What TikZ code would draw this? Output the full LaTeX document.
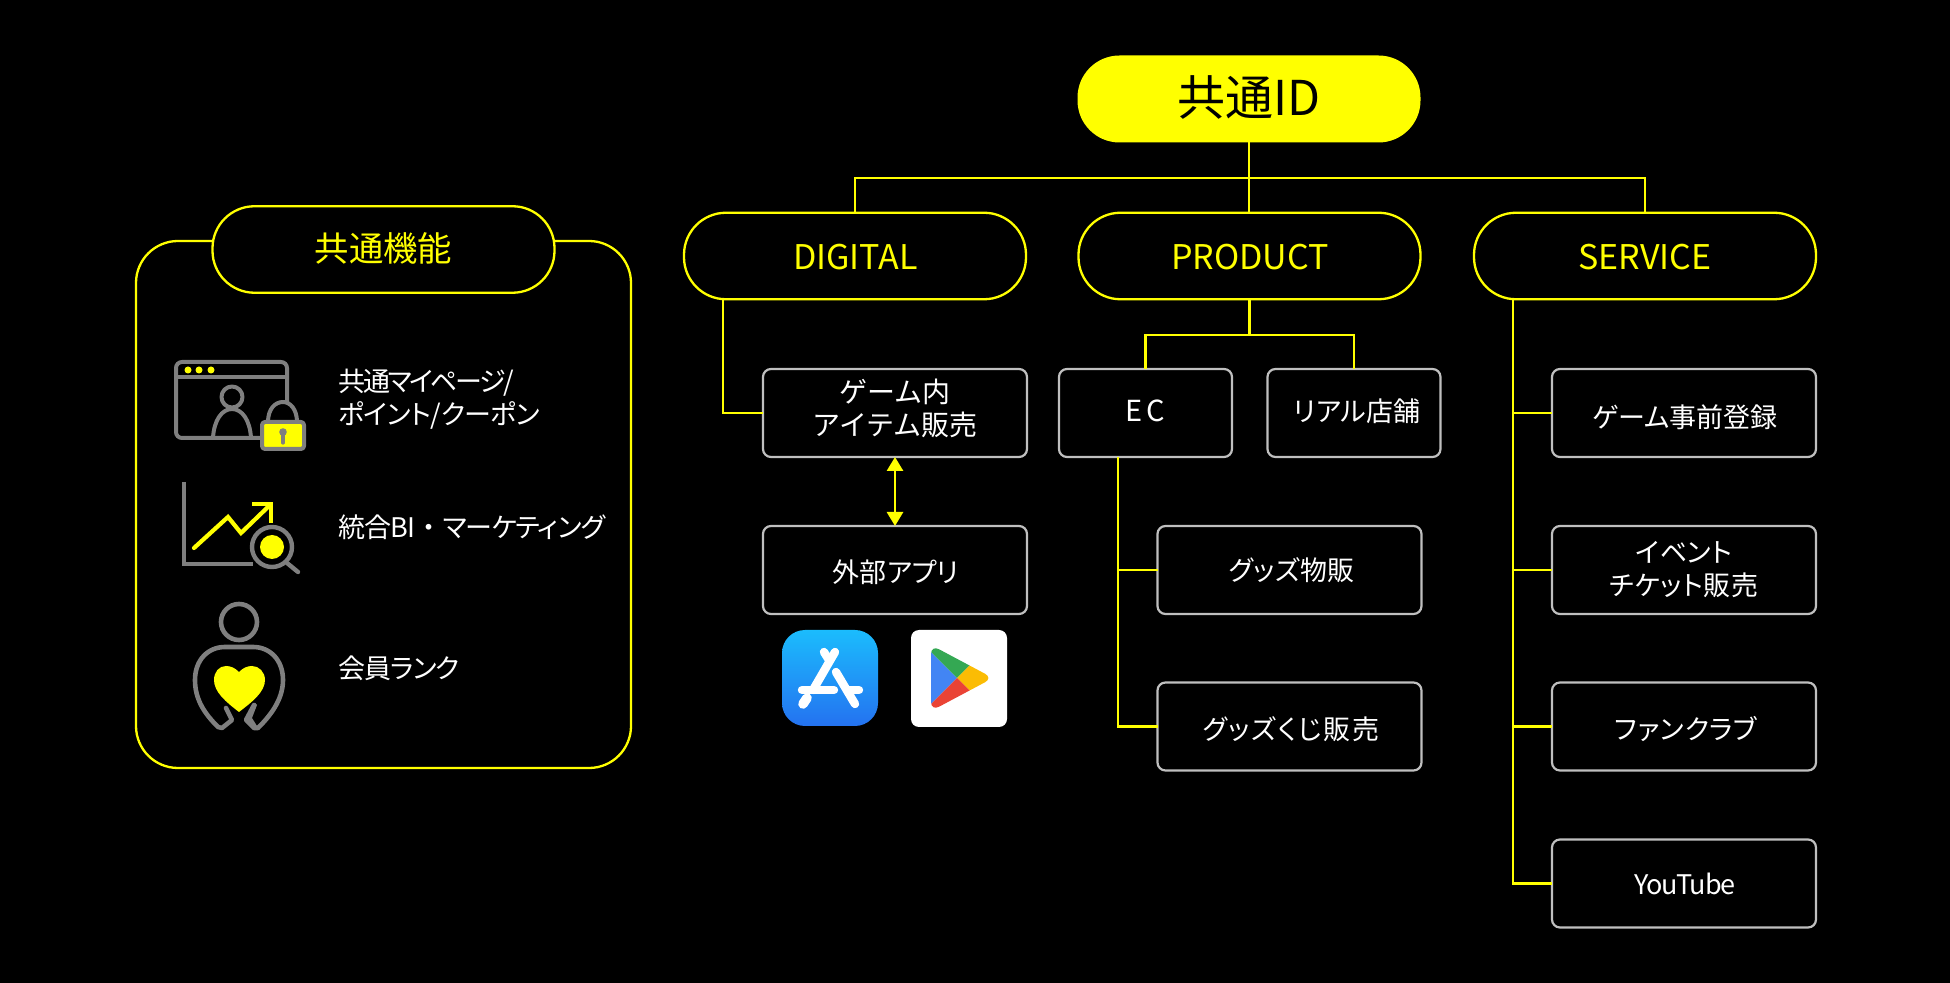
\documentclass[tikz,border=0pt]{standalone}
\usepackage{fontspec}
\setmainfont{Noto Sans CJK JP}
\newfontfamily\palt[RawFeature=+palt]{Noto Sans CJK JP}
\newcommand\tight[2]{{\addfontfeature{LetterSpace=#1}#2}}
\usetikzlibrary{arrows.meta}
\definecolor{ky}{HTML}{FFFF00}
\definecolor{gy}{HTML}{7F7F7F}
\definecolor{bx}{HTML}{BFBFBF}
\definecolor{asT}{HTML}{1BBCFD}
\definecolor{asB}{HTML}{2472F0}
\definecolor{gpb}{HTML}{4285F4}
\definecolor{gpg}{HTML}{34A853}
\definecolor{gpr}{HTML}{EA4335}
\definecolor{gpy}{HTML}{FBBC04}
\tikzset{
  pill/.style={draw=ky,fill=black,line width=1.15pt,rounded corners=21pt,minimum width=171pt,minimum height=43.25pt,inner sep=0pt,outer sep=0pt},
  box/.style={draw=bx,fill=black,line width=1.1pt,rounded corners=4pt,inner sep=0pt,outer sep=0pt,minimum height=44pt},
  bw/.style={box,minimum width=132pt},
  bn/.style={box,minimum width=86.5pt},
  link/.style={draw=ky,line width=1.15pt},
  txt/.style={text=white,font=\palt\fontsize{13.5pt}{16.5pt}\selectfont,align=center,inner sep=0pt},
  ltxt/.style={text=white,font=\palt\fontsize{13.5pt}{16.5pt}\selectfont,align=left,anchor=west,inner sep=0pt},
  ytxt/.style={text=ky,font=\fontsize{17pt}{19pt}\selectfont,inner sep=0pt},
  ico/.style={draw=gy,line width=2pt,line join=round,line cap=round},
  icy/.style={draw=ky,line width=2.1pt,line join=miter,line cap=round},
}
\begin{document}
\begin{tikzpicture}[x=0.5pt,y=-0.5pt]
\useasboundingbox[fill=black] (0,0) rectangle (1950,983);

% common panel
\node[draw=ky,line width=1.15pt,rounded corners=21pt,minimum width=247.5pt,minimum height=263.5pt,inner sep=0pt,outer sep=0pt] (panel) at (383.5,504.5) {};
\node[pill] (common) at (383.5,249.5) {};
\node[ytxt,font=\fontsize{17.2pt}{19pt}\selectfont] (commonT) at (383.5,248) {共通機能};

% top nodes
\node[pill,draw=none,fill=ky,minimum width=171.5pt,minimum height=43.5pt] (id) at (1249,99) {};
\node[text=black,font=\fontsize{24pt}{28pt}\selectfont,inner sep=0pt] (idT) at (1249,98) {共通ID};
\node[pill] (digital) at (855,256) {};
\node[ytxt] (digitalT) at (855.5,257) {DIGITAL};
\node[pill] (product) at (1249.5,256) {};
\node[ytxt] (productT) at (1250,257) {PRODUCT};
\node[pill] (service) at (1645,256) {};
\node[ytxt] (serviceT) at (1645,257) {SERVICE};

% boxes
\node[bw] (game) at (895,413) {};
\node[txt,font=\fontsize{14pt}{16.5pt}\selectfont] (gameT) at (895,408) {ゲーム内\\アイテム販売};
\node[bw] (ext) at (895,570) {};
\node[txt] (extT) at (896,572) {外部アプリ};
\node[bn] (ec) at (1145.5,413) {};
\node[txt,font=\fontsize{14.5pt}{16.5pt}\selectfont] (ecT) at (1145,411) {E\kern2pt C};
\node[bn] (real) at (1354,413) {};
\node[txt] (realT) at (1357,411) {リアル店舗};
\node[bw] (goods) at (1289.5,570) {};
\node[txt] (goodsT) at (1292,570) {\tight{1}{グッズ物販}};
\node[bw] (kuji) at (1289.5,726.5) {};
\node[txt] (kujiT) at (1291,729) {\tight{6}{グッズくじ販売}};
\node[bw] (pre) at (1684,413) {};
\node[txt] (preT) at (1685,417) {ゲーム事前登録};
\node[bw] (event) at (1684,570) {};
\node[txt] (eventT) at (1684,570) {イベント\\\tight{2}{チケット販売}};
\node[bw] (fan) at (1684,726.5) {};
\node[txt] (fanT) at (1686,729) {\tight{2}{ファンクラブ}};
\node[bw] (yt) at (1684,883.5) {};
\node[txt] (ytT) at (1685,884) {\tight{-4}{YouTube}};

% connectors
\coordinate (bus) at (1249,178);
\draw[link] (id.south) -- (id.south |- product.north);
\draw[link] (digital.north) |- (bus) -| (service.north);
\coordinate (dj) at (723,299);
\draw[link] (dj) |- (game.west);
\coordinate (pbus) at (1249.5,335);
\draw[link] (product.south) -- (pbus);
\draw[link] (ec.north) |- (pbus) -| (real.north);
\coordinate (ej) at (1118,457);
\draw[link] (ej) |- (kuji.west);
\draw[link] (ej |- goods.west) -- (goods.west);
\coordinate (sj) at (1513,299);
\draw[link] (sj) |- (yt.west);
\draw[link] (sj |- pre.west) -- (pre.west);
\draw[link] (sj |- event.west) -- (event.west);
\draw[link] (sj |- fan.west) -- (fan.west);
\draw[draw=ky,line width=1.4pt,{Triangle[width=8pt,length=7pt]}-{Triangle[width=8pt,length=7pt]}] (game.south) -- (ext.north);

% left labels
\node[ltxt] (l1) at (338,399) {\tight{-9}{共通マイページ/}\\\tight{-2}{ポイント/クーポン}};
\node[ltxt] (l2) at (338,527) {\tight{-3}{統合BI{\rmfamily ・}マーケティング}};
\node[ltxt] (l3) at (338,668) {\tight{-4}{会員ランク}};

% icon 1
\draw[ico,rounded corners=3pt] (287,402) -- (287,362) -- (176,362) -- (176,438) -- (262,438);
\draw[ico] (176,377) -- (287,377);
\foreach \x in {188,199,211} \fill[ky] (\x,370) circle (1.75pt);
\draw[ico] (232,397) circle (5.25pt);
\draw[ico] (213,438) .. controls (214,420) and (222,409) .. (232,409) .. controls (242,409) and (250,420) .. (251,438);
\draw[ico] (268,422) .. controls (268,409) and (275,402) .. (283,402) .. controls (290,402) and (297,409) .. (297,422);
\draw[ico,fill=ky,rounded corners=1.5pt] (262,422) rectangle (304,449);
\fill[gy] (283,432) circle (1.9pt);
\draw[gy,line width=1.6pt,line cap=round] (283,433) -- (283,443);

% icon 2
\draw[ico,line width=2.2pt,line cap=butt,line join=miter] (184,482) -- (184,564) -- (253,564);
\draw[icy] (194,548) -- (228,517) -- (241,533) -- (269,506);
\draw[icy,line cap=butt] (252,504) -- (271,504) -- (271,523);
\draw[ico,line width=2.2pt,fill=black] (272,547) circle (10pt);
\fill[ky] (272,547) circle (6pt);
\draw[ico,line width=2.2pt] (287,563) -- (298,572);

% icon 3
\draw[ico,line width=2.3pt] (239,622) circle (9pt);
\draw[ico,line width=2.3pt] (226,708) -- (232,720) -- (222,728) -- (218,727)
  .. controls (205,714) and (195,700) .. (195,680)
  .. controls (195,660) and (208,647) .. (225,647) -- (253,647)
  .. controls (270,647) and (283,660) .. (283,680)
  .. controls (283,700) and (270,716) .. (258,728) -- (254,728) -- (246,720) -- (254,705);
\fill[gy] (255,703) -- (246,720) -- (254,728) -- (257,726) -- (252,718) -- (257,705) -- cycle;
\fill[ky] (239,672) .. controls (235,668) and (231,666) .. (226,666)
  .. controls (219,666) and (214,672) .. (214,680)
  .. controls (214,692) and (226,702) .. (239,712)
  .. controls (252,702) and (265,692) .. (265,680)
  .. controls (265,672) and (259,666) .. (252,666)
  .. controls (247,666) and (243,668) .. (239,672) -- cycle;

% app store
\path[top color=asT,bottom color=asB,rounded corners=11.5pt] (782,630) rectangle (878,726);
\begin{scope}[line width=4.2pt,line cap=round]
\draw[white] (835,652) -- (813,690);
\draw[white] (824,652) -- (829,660);
\draw[white] (836,672) -- (855,704);
\draw[white] (802,690) -- (834,690);
\draw[white] (849,690) -- (859,690);
\draw[white,line width=4.8pt] (803,704) -- (807,698);
\end{scope}

% google play
\fill[white,rounded corners=4pt] (911,630) rectangle (1007,727);
\begin{scope}
\clip[rounded corners=4.5pt] (931,645) -- (993,678) -- (931,711) -- cycle;
\fill[gpb] (925,646) -- (957,678) -- (925,710) -- cycle;
\fill[gpg] (925,646) -- (957,678) -- (975,660) -- (950,635) -- cycle;
\fill[gpy] (957,678) -- (975,660) -- (1000,678) -- (975,696) -- cycle;
\fill[gpr] (957,678) -- (975,696) -- (950,720) -- (925,710) -- cycle;
\end{scope}
\end{tikzpicture}
\end{document}
